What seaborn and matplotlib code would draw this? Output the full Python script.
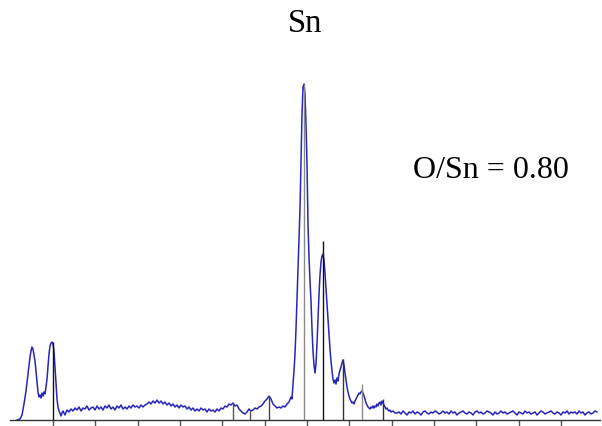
import matplotlib
matplotlib.use("Agg")
import matplotlib.pyplot as plt
import seaborn as sns
import numpy as np
import pandas as pd

# spectrum: channel number and counts above the baseline
left_channels = [7, 10, 12, 14, 16, 18] + list(range(20, 54))
left_counts = [0, 1, 5, 16, 29, 46,
               63, 69, 73, 71, 65, 59, 49, 38, 28, 23, 25, 22, 27, 24, 28, 26, 33,
               41, 53, 66, 74, 77, 78, 76, 69, 53, 36, 21, 13, 9, 7, 4, 7, 9]

mid_channels = list(range(55, 282, 2))
mid_counts = [5, 10, 8, 11, 9, 12, 10, 13, 9, 12,
              11, 14, 10, 12, 13, 10, 14, 11, 13, 10,
              14, 12, 15, 11, 13, 10, 14, 12, 15, 11,
              13, 11, 14, 12, 15, 13, 14, 12, 15, 13,
              15, 16, 18, 16, 19, 17, 20, 17, 19, 16,
              18, 15, 17, 14, 16, 13, 15, 12, 15, 13,
              14, 11, 13, 10, 12, 9, 11, 9, 12, 10,
              11, 8, 11, 9, 10, 8, 11, 9, 12, 11,
              14, 13, 16, 15, 17, 14, 15, 11, 9, 7,
              6, 8, 11, 9, 10, 12, 11, 13, 14, 16,
              19, 21, 24, 21, 16, 14, 12, 13, 12, 14,
              13, 16, 18, 23]

peak_channels = list(range(282, 382)) + [383, 385]
peak_counts = [21, 36, 49, 66, 91, 121, 151, 181, 211, 256,
               306, 333, 336, 326, 296, 256, 196, 163, 139, 119,
               91, 69, 55, 47, 56, 76, 101, 126, 145, 158,
               164, 166, 160, 147, 131, 116, 101, 86, 71, 59,
               49, 41, 37, 40, 36, 42, 39, 46, 50, 53,
               57, 60, 55, 47, 40, 33, 28, 24, 21, 19,
               17, 18, 16, 19, 21, 23, 25, 27, 26, 28,
               29, 27, 24, 21, 17, 15, 13, 12, 11, 13,
               12, 14, 12, 14, 13, 16, 14, 17, 18, 15,
               19, 17, 15, 13, 11, 12, 10, 9, 10, 8,
               9, 7]

tail_channels = list(range(387, 588, 2))
tail_counts = [7, 8, 6, 9, 7, 5, 8, 7, 9, 6,
               8, 7, 5, 8, 9, 7, 6, 8, 7, 9,
               8, 6, 7, 9, 7, 8, 6, 9, 7, 8,
               5, 7, 8, 9, 7, 6, 8, 7, 5, 8,
               9, 7, 8, 6, 7, 9, 8, 7, 5, 8,
               6, 7, 9, 7, 8, 6, 7, 8, 9, 7,
               5, 8, 7, 6, 9, 7, 8, 6, 7, 8,
               5, 7, 9, 8, 6, 7, 8, 9, 7, 6,
               8, 7, 5, 8, 7, 9, 6, 8, 7, 8,
               6, 9, 7, 8, 5, 7, 8, 6, 7, 9,
               8]

# reference line positions and heights
stick_channels = [43, 223, 240, 259, 294, 313, 333, 352, 373]
stick_heights = [78, 16, 9, 23, 336, 179, 61, 36, 21]
stick_colors = ["#111111", "#555555", "#555555", "#444444", "#8a8a8a",
                "#111111", "#333333", "#8a8a8a", "#333333"]

tick_channels = [43, 85, 128, 170, 212, 255, 297, 339, 382, 424, 466, 509, 551]

title_text = "Sn"
ratio_text = "O/Sn = 0.80"

spectrum = pd.DataFrame({
    "channel": left_channels + mid_channels + peak_channels + tail_channels,
    "counts": left_counts + mid_counts + peak_counts + tail_counts,
})

sns.set_style("white")
plt.rcParams["font.family"] = ["Liberation Serif", "DejaVu Serif"]

fig = plt.figure(figsize=(6.02, 4.27), dpi=100)
ax = fig.add_axes([10 / 602, 6 / 427, 590 / 602, 341 / 427])

ax.vlines(stick_channels, 0, stick_heights, colors=stick_colors, linewidth=1.0, zorder=3)
sns.lineplot(data=spectrum, x="channel", y="counts", sort=False, estimator=None,
             color="#2626b8", linewidth=1.1, ax=ax, zorder=2)

ax.set_xlim(0, 590)
ax.set_ylim(0, 341)
ax.set_xticks(tick_channels)
ax.set_xticklabels([])
ax.set_yticks([])
ax.set_xlabel("")
ax.set_ylabel("")
for side in ["left", "right", "top"]:
    ax.spines[side].set_visible(False)
ax.spines["bottom"].set_color("#333333")
ax.spines["bottom"].set_linewidth(1.0)
ax.tick_params(axis="x", direction="out", length=4, width=1.0, color="#555555", bottom=True)

fig.text(305 / 602, 1 - 32 / 427, title_text, ha="center", va="baseline",
         fontsize=23.5, color="black")
fig.text(413 / 602, 1 - 178 / 427, ratio_text, ha="left", va="baseline",
         fontsize=23, color="black")

fig.savefig("out.png", dpi=100)
